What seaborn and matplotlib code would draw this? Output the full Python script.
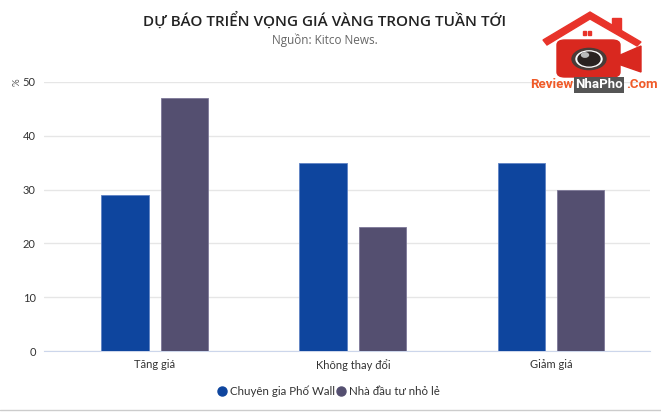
import matplotlib
matplotlib.use("Agg")
import matplotlib.pyplot as plt
import seaborn as sns
import pandas as pd
from matplotlib.patches import Polygon, FancyBboxPatch, Circle, Rectangle
from matplotlib.lines import Line2D

# dữ liệu
categories = ["Tăng giá", "Không thay đổi", "Giảm giá"]
series_names = ["Chuyên gia Phố Wall", "Nhà đầu tư nhỏ lẻ"]
wall_street = [29, 35, 35]
main_street = [47, 23, 30]
y_ticks = [0, 10, 20, 30, 40, 50]

colors = ["#0E459E", "#544F70"]

df = pd.DataFrame({
    "cat": categories * 2,
    "group": [series_names[0]] * 3 + [series_names[1]] * 3,
    "value": wall_street + main_street,
})

sns.set_style("white")
plt.rcParams["font.family"] = ["Lato", "DejaVu Sans"]

W, H = 661, 413
fig = plt.figure(figsize=(W / 100, H / 100), dpi=100)
ax = fig.add_axes([44 / W, (H - 351) / H, (650 - 44) / W, (351 - 82) / H])

sns.barplot(data=df, x="cat", y="value", hue="group", order=categories,
            hue_order=series_names, palette=colors, saturation=1, width=0.6, gap=0.2,
            ax=ax, legend=False, zorder=3)
for i, bar in enumerate(ax.patches):
    bar.set_edgecolor("#5f82c4" if i < 3 else "#7d7898")
    bar.set_linewidth(0.6)

ax.set_xlim(-0.56, 2.5)
ax.set_ylim(0, 50)
ax.set_yticks(y_ticks)
ax.yaxis.grid(True, color="#e6e6e6", linewidth=1, zorder=0)
for s in ["top", "right", "left"]:
    ax.spines[s].set_visible(False)
ax.spines["bottom"].set_color("#ccd6eb")
ax.tick_params(axis="both", length=0, labelsize=8, colors="#333333")
ax.tick_params(axis="y", pad=6)
ax.tick_params(axis="x", pad=6)
ax.set_xlabel("")
ax.set_ylabel("")

fig.text(17 / W, 1 - 82 / H, "%", rotation=90, ha="center", va="center",
         fontsize=7, color="#555555")

fig.text(325 / W, 1 - 20 / H, "DỰ BÁO TRIỂN VỌNG GIÁ VÀNG TRONG TUẦN TỚI",
         ha="center", va="center", fontsize=11, color="#222222",
         family=["Open Sans", "DejaVu Sans"], fontweight="semibold")
fig.text(325 / W, 1 - 40 / H, "Nguồn: Kitco News.", ha="center", va="center",
         fontsize=8.5, color="#666666", family=["Open Sans", "DejaVu Sans"])

handles = [Line2D([], [], marker="o", linestyle="", markersize=6.5,
                  markerfacecolor=c, markeredgecolor=c) for c in colors]
fig.legend(handles, series_names, loc="center", bbox_to_anchor=(329 / W, 1 - 391 / H),
           ncol=2, frameon=False, fontsize=8.3, handlelength=0.7, handletextpad=0.35,
           columnspacing=0.2, labelcolor="#333333")

# đường viền dưới
fig.add_artist(Line2D([0, 1], [1 - 410 / H] * 2, color="#cccccc", linewidth=1))

# logo ReviewNhaPho
def fx(x):
    return x / W

def fy(y):
    return 1 - y / H

red = "#e8332a"
fig.add_artist(Polygon([(fx(543), fy(40)), (fx(590), fy(12)), (fx(641), fy(42)),
                        (fx(637), fy(46)), (fx(590), fy(19)), (fx(547), fy(45))],
                       closed=True, color=red, transform=fig.transFigure))
fig.add_artist(Rectangle((fx(612), fy(30)), 9 / W, 12 / H, color=red,
                         transform=fig.transFigure))
fig.add_artist(FancyBboxPatch((fx(557), fy(77)), 63 / W, 37 / H,
                              boxstyle="round,pad=0,rounding_size=0.012",
                              color="#d9281f", transform=fig.transFigure))
fig.add_artist(Polygon([(fx(618), fy(56)), (fx(641), fy(46)), (fx(641), fy(72)), (fx(618), fy(64))],
                       closed=True, color="#d9281f", transform=fig.transFigure))
fig.add_artist(Rectangle((fx(583), fy(35)), 3 / W, 4 / H, color=red, transform=fig.transFigure))
fig.add_artist(Rectangle((fx(588), fy(35)), 3 / W, 4 / H, color=red, transform=fig.transFigure))
fig.add_artist(Circle((fx(589), fy(59)), 17 / W, color="#4a3c38", transform=fig.transFigure))
fig.add_artist(Circle((fx(589), fy(59)), 13 / W, color="#ffffff", transform=fig.transFigure))
fig.add_artist(Circle((fx(589), fy(59)), 11 / W, color="#2a2220", transform=fig.transFigure))
fig.add_artist(Circle((fx(585), fy(55)), 3.5 / W, color="#bbbbbb", transform=fig.transFigure))

logo_font = dict(fontsize=9.5, fontweight="bold", va="center",
                 family=["Roboto", "DejaVu Sans"])
renderer = fig.canvas.get_renderer()
x_px = 530
for txt, col, boxed in [("Review", "#f05a28", False), ("NhaPho", "white", True),
                        (".Com", "#f05a28", False)]:
    extra = {}
    if boxed:
        x_px += 2
        extra["bbox"] = dict(boxstyle="square,pad=0.12", fc="#555555", ec="none")
    t = fig.text(fx(x_px), fy(85), txt, color=col, ha="left", **logo_font, **extra)
    w = t.get_window_extent(renderer).width
    x_px += w + (3 if boxed else 0)

fig.savefig("out.png", dpi=100)
